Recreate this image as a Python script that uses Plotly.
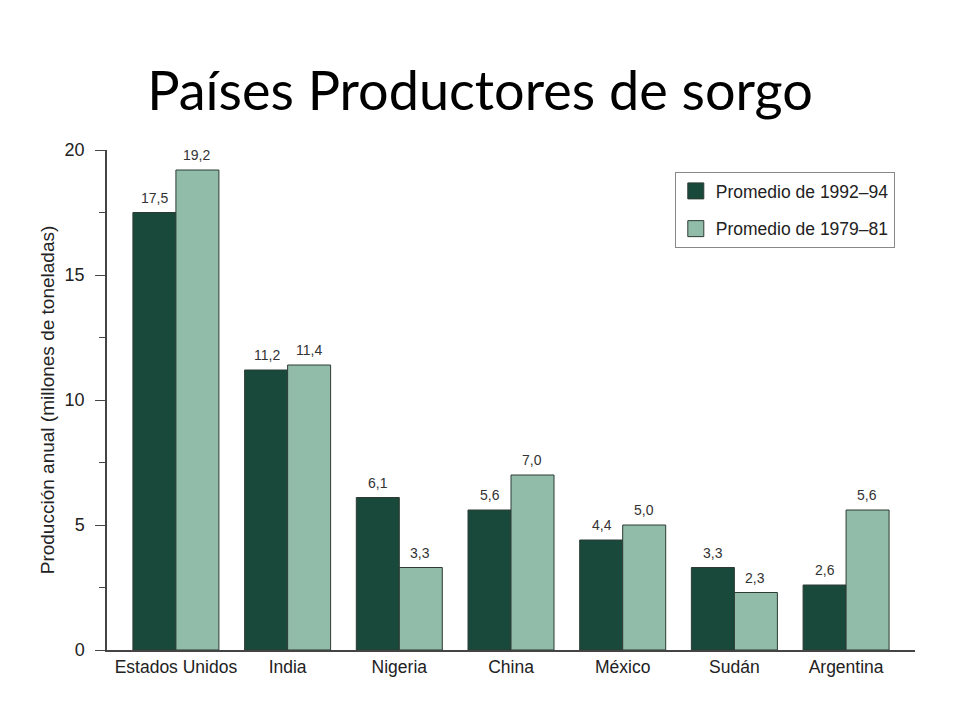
import plotly.graph_objects as go

paises = ["Estados Unidos", "India", "Nigeria", "China", "México", "Sudán", "Argentina"]
prom_1992_94 = [17.5, 11.2, 6.1, 5.6, 4.4, 3.3, 2.6]
prom_1979_81 = [19.2, 11.4, 3.3, 7.0, 5.0, 2.3, 5.6]
series_names = ["Promedio de 1992–94", "Promedio de 1979–81"]
y_ticks = [0, 5, 10, 15, 20]

dark = "#18493a"
light = "#91bcaa"
font = "Liberation Sans"


def fmt(v):
    return f"{v:.1f}".replace(".", ",")


fig = go.Figure()
for i, (name, vals, color) in enumerate([
    (series_names[0], prom_1992_94, dark),
    (series_names[1], prom_1979_81, light),
]):
    fig.add_trace(
        go.Bar(
            x=paises,
            y=vals,
            name=name,
            showlegend=False,
            marker=dict(color=color, line=dict(color="#2d3b34", width=1)),
        )
    )
    # legend-only entry with a bigger square swatch
    fig.add_trace(
        go.Scatter(
            x=[None], y=[None],
            mode="markers",
            name=name,
            legendgroup=f"g{i}",
            marker=dict(symbol="square", size=20, color=color,
                        line=dict(color="#2d3b34", width=1)),
        )
    )

# value labels above the bars
annotations = []
for vals, shift in [(prom_1992_94, -21), (prom_1979_81, 21)]:
    for p, v in zip(paises, vals):
        annotations.append(
            dict(
                x=p, y=v, text=fmt(v), showarrow=False,
                xshift=shift, yshift=15,
                font=dict(family=font, size=14, color="#333"),
            )
        )

fig.update_layout(
    width=960,
    height=720,
    barmode="group",
    bargap=0.23,
    bargroupgap=0,
    plot_bgcolor="white",
    paper_bgcolor="white",
    margin=dict(l=99, r=53, t=142, b=78),
    title=dict(
        text="Países Productores de sorgo",
        x=0.4917, xanchor="center",
        y=0.885, yanchor="middle",
        font=dict(family="Lato", size=54, color="black"),
    ),
    font=dict(family=font, color="#222"),
    legend=dict(
        x=0.975, xanchor="right",
        y=0.956, yanchor="top",
        bgcolor="white",
        bordercolor="#888",
        borderwidth=1,
        font=dict(family=font, size=17.5, color="#222"),
        itemsizing="trace",
        tracegroupgap=12,
    ),
    xaxis=dict(
        range=[-0.617, 6.617],
        showline=True,
        linecolor="#444",
        linewidth=1.5,
        ticks="",
        tickfont=dict(size=17.5, color="#222"),
    ),
    yaxis=dict(
        range=[0, 20],
        tickvals=y_ticks,
        showline=True,
        linecolor="#444",
        linewidth=1.5,
        ticks="outside",
        ticklen=10,
        tickcolor="#444",
        ticklabelstandoff=7,
        showgrid=False,
        zeroline=False,
        tickfont=dict(size=18, color="#222"),
        minor=dict(ticks="outside", ticklen=6, dtick=2.5, tickcolor="#444", showgrid=False),
        title=dict(
            text="Producción anual (millones de toneladas)",
            font=dict(size=19, color="#222"),
            standoff=5,
        ),
    ),
    annotations=annotations,
)

fig.write_html("out.html")
